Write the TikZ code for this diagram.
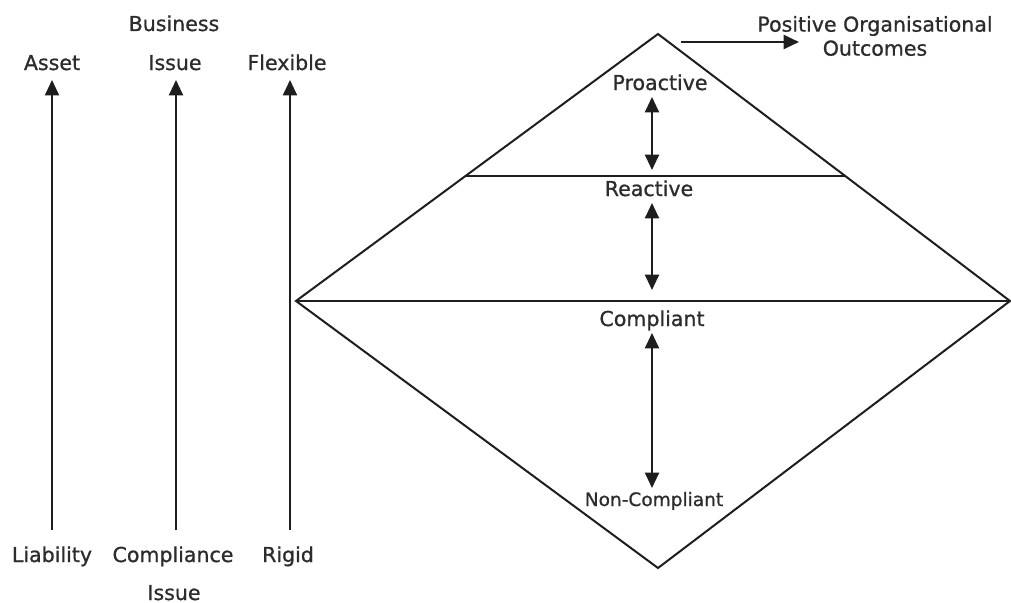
\documentclass[tikz,border=0pt]{standalone}
\usepackage{fontspec}
\setmainfont{DejaVu Sans}
\newfontfamily\lblfont{DejaVu Sans}[FakeBold=0.9]
\usetikzlibrary{arrows.meta,calc}
\definecolor{ink}{HTML}{1E1E1E}
\definecolor{txt}{HTML}{2C2C2C}
\begin{document}
\begin{tikzpicture}[x=0.75pt,y=-0.75pt,
  lbl/.style={inner sep=0pt, anchor=base, text=txt, font=\lblfont\fontsize{15.4}{18}\selectfont},
  small/.style={lbl, font=\lblfont\fontsize{13.9}{16}\selectfont},
  edge/.style={draw=ink, line width=1.5pt, line join=miter},
  arr/.style={draw=ink, line width=1.5pt, -{Triangle[length=11.5pt,width=10.5pt]}},
  darr/.style={draw=ink, line width=1.5pt, {Triangle[length=11.5pt,width=10.5pt]}-{Triangle[length=11.5pt,width=10.5pt]}}]
\useasboundingbox (0,0) rectangle (1011,603);

% left-hand scales
\node[lbl] (asset)      at (52,70)  {Asset};
\node[lbl] (business)   at (174,31) {Business};
\node[lbl] (issuetop)   at (175,70) {Issue};
\node[lbl] (flexible)   at (287,70) {Flexible};
\node[lbl] (liability)  at (52,562) {Liability};
\node[lbl] (compliance) at (173,562) {Compliance};
\node[lbl] (issuebot)   at (174,600) {Issue};
\node[lbl] (rigid)      at (288,562) {Rigid};

\coordinate (s1a) at (52,530);  \coordinate (s1b) at (52,80);
\coordinate (s2a) at (176,530); \coordinate (s2b) at (176,80);
\coordinate (s3a) at (290,530); \coordinate (s3b) at (290,80);
\draw[arr] (s1a) -- (s1b);
\draw[arr] (s2a) -- (s2b);
\draw[arr] (s3a) -- (s3b);

% diamond of compliance levels
\coordinate (top)    at (658,34);
\coordinate (left)   at (296,301);
\coordinate (right)  at (1010,301);
\coordinate (bottom) at (658,568);
\draw[edge] (top) -- (right) -- (bottom) -- (left) -- cycle;
\draw[edge] (left) -- (right);
\draw[edge] ($(top)!0.532!(left)$) -- ($(top)!0.532!(right)$);

\node[lbl]   (proactive) at (660,90)  {Proactive};
\node[lbl]   (reactive)  at (649,196) {Reactive};
\node[lbl]   (compliant) at (652,326) {Compliant};
\node[small] (noncomp)   at (654,506) {Non-Compliant};

\coordinate (p1) at (652,97);  \coordinate (p2) at (652,170);
\coordinate (r1) at (652,203); \coordinate (r2) at (652,290);
\coordinate (c1) at (652,333); \coordinate (c2) at (652,488);
\draw[darr] (p1) -- (p2);
\draw[darr] (r1) -- (r2);
\draw[darr] (c1) -- (c2);

% outcome
\node[lbl, anchor=center, align=center] (outcome) at (875,36)
  {Positive Organisational\\Outcomes};
\coordinate (o1) at (681,42);
\coordinate (o2) at (799,42);
\draw[arr] (o1) -- (o2);
\end{tikzpicture}
\end{document}
